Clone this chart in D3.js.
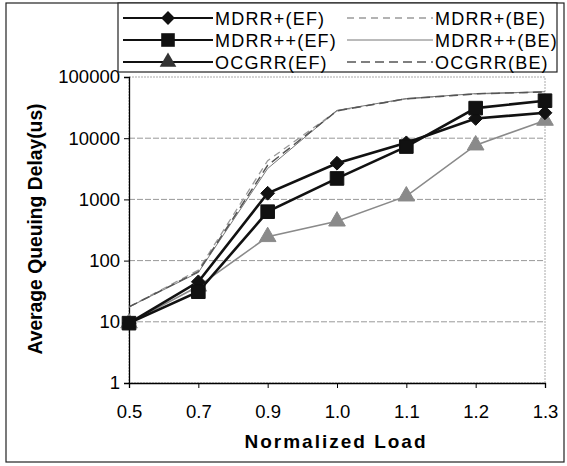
<!DOCTYPE html>
<html>
<head>
<meta charset="utf-8">
<script src="https://cdn.jsdelivr.net/npm/d3@7"></script>
<style>
  body { margin: 0; background: #fff; }
  text { font-family: "Liberation Sans", Arial, sans-serif; }
</style>
</head>
<body>
<svg id="chart" width="567" height="466"></svg>
<script>
// data
const loads = ['0.5', '0.7', '0.9', '1.0', '1.1', '1.2', '1.3'];
const mdrrPlusEF = [9.5, 45, 1260, 3900, 8400, 21000, 26000];
const mdrrPlusPlusEF = [9.5, 31, 630, 2200, 7300, 31000, 41000];
const ocgrrEF = [9.5, 38, 245, 440, 1130, 7700, 19500];
const mdrrPlusBE = [17.5, 70, 4300, 28000, 44000, 53000, 57000];
const mdrrPlusPlusBE = [17.5, 64, 3200, 28500, 44500, 53500, 57500];
const ocgrrBE = [17.5, 66, 3600, 28000, 44000, 53000, 57000];
const yTicks = [1, 10, 100, 1000, 10000, 100000];

const series = [
  { name: 'MDRR+(BE)', values: mdrrPlusBE, color: '#9a9a9a', width: 1.3, dash: '7,5', marker: null },
  { name: 'MDRR++(BE)', values: mdrrPlusPlusBE, color: '#777', width: 1, dash: null, marker: null },
  { name: 'OCGRR(BE)', values: ocgrrBE, color: '#555', width: 1.5, dash: '9,5', marker: null },
  { name: 'OCGRR(EF)', values: ocgrrEF, color: '#8a8a8a', width: 1.6, dash: null, marker: 'triangle' },
  { name: 'MDRR+(EF)', values: mdrrPlusEF, color: '#111', width: 2.6, dash: null, marker: 'diamond' },
  { name: 'MDRR++(EF)', values: mdrrPlusPlusEF, color: '#111', width: 2.6, dash: null, marker: 'square' }
];

const svg = d3.select('#chart');
const plotLeft = 129, plotRight = 545, plotTop = 77, plotBottom = 383;

const x = d3.scalePoint().domain(loads).range([plotLeft, plotRight]);
const y = d3.scaleLog().domain([1, 100000]).range([plotBottom, plotTop]);

// outer frame
svg.append('rect')
  .attr('x', 6).attr('y', 3).attr('width', 558).attr('height', 459)
  .attr('fill', 'none').attr('stroke', '#222').attr('stroke-width', 1.2);

// plot area border + gridlines
svg.append('rect')
  .attr('x', plotLeft).attr('y', plotTop)
  .attr('width', plotRight - plotLeft).attr('height', plotBottom - plotTop)
  .attr('fill', 'none').attr('stroke', '#aaa').attr('stroke-dasharray', '2,1');

svg.append('g')
  .selectAll('line')
  .data(yTicks.slice(1, -1))
  .join('line')
  .attr('x1', plotLeft).attr('x2', plotRight)
  .attr('y1', d => y(d)).attr('y2', d => y(d))
  .attr('stroke', '#999').attr('stroke-dasharray', '6,2');

// axes
const yAxis = svg.append('g')
  .attr('transform', `translate(${plotLeft},0)`)
  .call(d3.axisLeft(y).tickValues(yTicks).tickFormat(d3.format('d')).tickSize(5).tickPadding(4));
const xAxis = svg.append('g')
  .attr('transform', `translate(0,${plotBottom})`)
  .call(d3.axisBottom(x).tickSize(5).tickPadding(17));

[yAxis, xAxis].forEach(g => {
  g.select('.domain').attr('stroke', '#000').attr('stroke-width', 1.3);
  g.selectAll('.tick line').attr('stroke', '#000');
  g.selectAll('text').attr('font-size', 18.5).attr('fill', '#000')
    .style('font-family', '"Liberation Sans", Arial, sans-serif');
});

svg.append('text')
  .attr('x', 336).attr('y', 448)
  .attr('text-anchor', 'middle')
  .attr('font-size', 19).attr('font-weight', 'bold')
  .attr('letter-spacing', 2)
  .text('Normalized Load');

svg.append('text')
  .attr('transform', 'translate(42,229) rotate(-90)')
  .attr('text-anchor', 'middle')
  .attr('font-size', 19.3).attr('font-weight', 'bold')
  .text('Average Queuing Delay(us)');

// lines
const line = d3.line().x((d, i) => x(loads[i])).y(d => y(d));

series.forEach(s => {
  svg.append('path')
    .datum(s.values)
    .attr('d', line)
    .attr('fill', 'none')
    .attr('stroke', s.color)
    .attr('stroke-width', s.width)
    .attr('stroke-dasharray', s.dash);
});

// wide diamond like the Excel marker
const wideDiamond = {
  draw(context, size) {
    const r = Math.sqrt(size / 2);
    context.moveTo(0, -r);
    context.lineTo(r, 0);
    context.lineTo(0, r);
    context.lineTo(-r, 0);
    context.closePath();
  }
};

const symbols = {
  diamond: d3.symbol().type(wideDiamond).size(95),
  square: d3.symbol().type(d3.symbolSquare).size(185),
  triangle: d3.symbol().type(d3.symbolTriangle).size(120)
};

series.filter(s => s.marker).forEach(s => {
  svg.append('g')
    .selectAll('path')
    .data(s.values)
    .join('path')
    .attr('transform', (d, i) => `translate(${x(loads[i])},${y(d)})`)
    .attr('d', symbols[s.marker])
    .attr('fill', s.color)
    .attr('stroke', s.color);
});

// legend
const legend = svg.append('g');
legend.append('rect')
  .attr('x', 118).attr('y', 3).attr('width', 439).attr('height', 69)
  .attr('fill', '#fff').attr('stroke', '#222').attr('stroke-width', 1.2);

const legendRows = [
  { s: 'MDRR+(EF)', col: 0, row: 0 },
  { s: 'MDRR++(EF)', col: 0, row: 1 },
  { s: 'OCGRR(EF)', col: 0, row: 2 },
  { s: 'MDRR+(BE)', col: 1, row: 0 },
  { s: 'MDRR++(BE)', col: 1, row: 1 },
  { s: 'OCGRR(BE)', col: 1, row: 2 }
];
const colX = [[123, 213], [347, 433]];
const rowY = [18, 40, 62];

legendRows.forEach(r => {
  const s = series.find(d => d.name === r.s);
  const [x1, x2] = colX[r.col];
  const yy = rowY[r.row];
  legend.append('line')
    .attr('x1', x1).attr('x2', x2).attr('y1', yy).attr('y2', yy)
    .attr('stroke', s.marker ? '#111' : s.color)
    .attr('stroke-width', s.marker ? 2.2 : s.width)
    .attr('stroke-dasharray', s.dash);
  if (s.marker) {
    legend.append('path')
      .attr('transform', `translate(${(x1 + x2) / 2},${yy})`)
      .attr('d', symbols[s.marker])
      .attr('fill', s.marker === 'triangle' ? '#333' : '#111');
  }
  legend.append('text')
    .attr('x', x2 + 2).attr('y', yy + 6.5)
    .attr('font-size', 18)
    .attr('letter-spacing', 1.2)
    .text(s.name);
});
</script>
</body>
</html>
